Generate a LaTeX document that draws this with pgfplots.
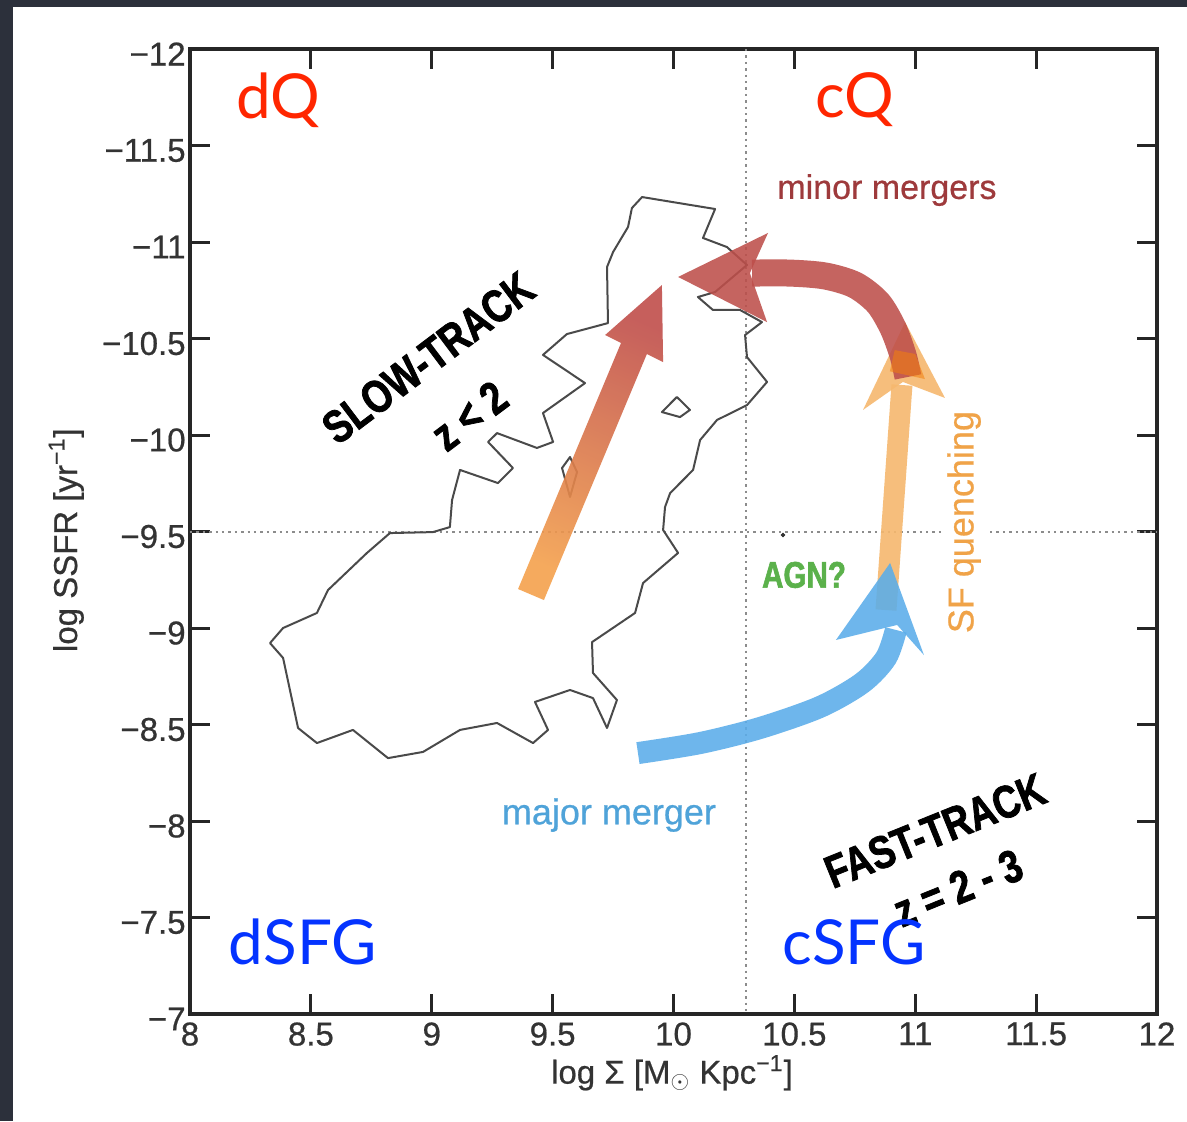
\documentclass[border=0pt]{standalone}
\usepackage{pgfplots}
\pgfplotsset{compat=1.18}
\usepackage{fontspec}
\setmainfont{Liberation Sans}
\newfontfamily\gill{Lato}
\newfontfamily\cond[FakeStretch=0.80, FakeBold=1.6]{Liberation Sans}
\newfontfamily\semib[FakeBold=0.6]{Liberation Sans}
\definecolor{bgdark}{HTML}{2C303B}
\definecolor{srtop}{HTML}{C04E4B}
\definecolor{srbot}{HTML}{F4A14D}
\definecolor{mmred}{HTML}{BE4F4B}
\definecolor{sforange}{HTML}{F6B86E}
\definecolor{mjblue}{HTML}{5AADEA}
\definecolor{txtminor}{HTML}{9E3A3C}
\definecolor{txtagn}{HTML}{5BB14B}
\definecolor{txtsf}{HTML}{F0A348}
\definecolor{txtmajor}{HTML}{4FA3D9}
\definecolor{kred}{HTML}{FF2600}
\definecolor{kblue}{HTML}{0433FF}
\definecolor{contour}{HTML}{4A4A4A}
\begin{document}
\begin{tikzpicture}
\fill[bgdark] (-95pt,-53.5pt) rectangle (498.5pt,507pt);
\fill[white] (-88.5pt,-53.5pt) rectangle (498.5pt,503.5pt);
\useasboundingbox (-95pt,-53.5pt) rectangle (498.5pt,507pt);
\begin{axis}[
  at={(0pt,0pt)}, anchor=south west,
  scale only axis, width=483.5pt, height=482.5pt,
  xmin=8, xmax=12, ymin=-12, ymax=-7, y dir=reverse,
  xtick={8,8.5,9,9.5,10,10.5,11,11.5,12},
  xticklabels={8,8.5,9,9.5,10,10.5,11,11.5,12},
  ytick={-12,-11.5,-11,-10.5,-10,-9.5,-9,-8.5,-8,-7.5,-7},
  yticklabels={−12,−11.5,−11,−10.5,−10,−9.5,−9,−8.5,−8,−7.5,−7},
  tick align=inside, major tick length=10pt,
  tick style={line width=1.5pt, color=black!85},
  axis line style={line width=1.8pt, color=black!85},
  ticklabel style={font=\semib\fontsize{16.5}{16.5}\selectfont, text=black!80},
  yticklabel style={inner sep=2pt, yshift=-2.5pt},
  xticklabel style={inner sep=4pt},
  xlabel={log Σ [M$_{\odot}$ Kpc\textsuperscript{−1}]},
  ylabel={log SSFR [yr\textsuperscript{−1}]},
  xlabel style={at={(axis description cs:0.4984,-0.0611)}, anchor=center, font=\semib\fontsize{16.5}{16.5}\selectfont, text=black!80},
  ylabel style={at={(axis description cs:-0.128,0.491)}, anchor=center, font=\semib\fontsize{16.5}{16.5}\selectfont, text=black!80},
]
% dotted reference lines
\addplot[color=black!45, line width=1pt, dash pattern=on 1.2pt off 2pt] coordinates {(10.3,-12) (10.3,-7)};
\addplot[color=black!45, line width=1pt, dash pattern=on 1.2pt off 2pt] coordinates {(8,-9.5) (12,-9.5)};
% contour
\addplot[color=contour, line width=1pt, line join=round] coordinates {
(9.870,-11.233) (10.172,-11.171) (10.122,-11.021) (10.221,-10.974) (10.304,-10.881)
(10.172,-10.741) (10.101,-10.715) (10.163,-10.648) (10.275,-10.648) (10.366,-10.585)
(10.296,-10.518) (10.304,-10.404) (10.387,-10.275) (10.304,-10.155) (10.180,-10.078)
(10.110,-9.974) (10.081,-9.819) (9.986,-9.699) (9.965,-9.627) (9.957,-9.508)
(10.019,-9.389) (9.874,-9.233) (9.841,-9.078) (9.663,-8.927) (9.667,-8.767)
(9.766,-8.627) (9.725,-8.482) (9.667,-8.637) (9.572,-8.679) (9.427,-8.617)
(9.481,-8.472) (9.419,-8.404) (9.270,-8.508) (9.117,-8.472) (8.964,-8.358)
(8.819,-8.326) (8.674,-8.472) (8.525,-8.404) (8.447,-8.482) (8.385,-8.845)
(8.331,-8.922) (8.385,-9.000) (8.525,-9.078) (8.571,-9.197) (8.732,-9.389)
(8.827,-9.492) (9.005,-9.497) (9.075,-9.523) (9.084,-9.663) (9.117,-9.819)
(9.274,-9.751) (9.336,-9.829) (9.233,-9.964) (9.270,-10.010) (9.435,-9.933)
(9.502,-9.964) (9.460,-10.114) (9.634,-10.269) (9.460,-10.415) (9.559,-10.523)
(9.729,-10.580) (9.725,-10.870) (9.750,-10.948) (9.812,-11.078) (9.828,-11.176)
} -- cycle;
\addplot[color=contour, line width=1pt, line join=round] coordinates {
(9.952,-10.119) (10.014,-10.197) (10.068,-10.130) (10.027,-10.093)} -- cycle;
\addplot[color=contour, line width=1pt, line join=round] coordinates {
(9.539,-9.829) (9.572,-9.886) (9.601,-9.808) (9.572,-9.679)} -- cycle;
\addplot[only marks, mark=*, mark size=0.9pt, color=black!80] coordinates {(10.453,-9.482)};
% slow-track arrow (gradient)
\addplot[draw=none, top color=srtop, bottom color=srbot, shading angle=-23, fill opacity=0.9] coordinates {
(9.357,-9.202) (9.783,-10.477) (9.717,-10.518) (9.952,-10.777) (9.957,-10.378) (9.890,-10.420) (9.464,-9.145)
} -- cycle;
% SF quenching arrow (orange)
\addplot[color=sforange, line width=10.5pt, opacity=0.9] coordinates {(10.879,-9.093) (10.945,-10.259)};
\addplot[draw=none, fill=sforange, fill opacity=0.9] coordinates {
(10.784,-10.130) (10.958,-10.585) (11.123,-10.192) (10.949,-10.275)} -- cycle;
% major merger arrow (blue)
\addplot[color=mjblue, line width=11pt, opacity=0.88, smooth, tension=0.5] coordinates {
(9.853,-8.352) (10.110,-8.404) (10.358,-8.482) (10.606,-8.591) (10.780,-8.715) (10.879,-8.845) (10.920,-8.990)};
\addplot[draw=none, fill=mjblue, fill opacity=0.88] coordinates {
(10.896,-9.337) (11.036,-8.860) (10.925,-9.016) (10.672,-8.938)} -- cycle;
% minor mergers arrow (red)
\addplot[color=mmred, line width=13.5pt, opacity=0.88, smooth, tension=0.5] coordinates {
(10.970,-10.301) (10.949,-10.415) (10.908,-10.554) (10.846,-10.684) (10.751,-10.777) (10.627,-10.824) (10.482,-10.839) (10.325,-10.839)};
\addplot[draw=none, fill=mmred, fill opacity=0.88] coordinates {
(10.019,-10.819) (10.391,-11.047) (10.316,-10.839) (10.387,-10.585)} -- cycle;
% overlap of the red shaft with the orange head
\addplot[draw=none, fill=orange!80!brown, fill opacity=0.55] coordinates {
(10.895,-10.330) (11.040,-10.290) (11.000,-10.420) (10.915,-10.440)} -- cycle;
% texts
\node[font=\cond\bfseries\fontsize{23}{23}\selectfont, rotate=37] at (axis cs:8.985,-10.400) {SLOW-TRACK};
\node[font=\cond\bfseries\fontsize{23}{23}\selectfont, rotate=37] at (axis cs:9.155,-10.100) {z < 2};
\node[font=\cond\bfseries\fontsize{23}{23}\selectfont, rotate=22] at (axis cs:11.082,-7.950) {FAST-TRACK};
\node[font=\cond\bfseries\fontsize{23}{23}\selectfont, rotate=22] at (axis cs:11.177,-7.653) {z = 2 - 3};
\node[font=\semib\fontsize{17}{17}\selectfont, text=txtminor] at (axis cs:10.883,-11.269) {minor mergers};
\node[font=\cond\bfseries\fontsize{18.5}{18.5}\selectfont, text=txtagn] at (axis cs:10.540,-9.275) {AGN?};
\node[font=\semib\fontsize{18}{18}\selectfont, text=txtsf, rotate=90, fill=white, inner sep=3pt] at (axis cs:11.202,-9.549) {SF quenching};
\node[font=\semib\fontsize{18}{18}\selectfont, text=txtmajor] at (axis cs:9.733,-8.031) {major merger};
\node[font=\gill\fontsize{31}{31}\selectfont, text=kred] at (axis cs:8.364,-11.736) {dQ};
\node[font=\gill\fontsize{31}{31}\selectfont, text=kred] at (axis cs:10.751,-11.736) {cQ};
\node[font=\gill\fontsize{31}{31}\selectfont, text=kblue] at (axis cs:8.467,-7.373) {dSFG};
\node[font=\gill\fontsize{31}{31}\selectfont, text=kblue] at (axis cs:10.747,-7.373) {cSFG};
\end{axis}
\end{tikzpicture}
\end{document}
